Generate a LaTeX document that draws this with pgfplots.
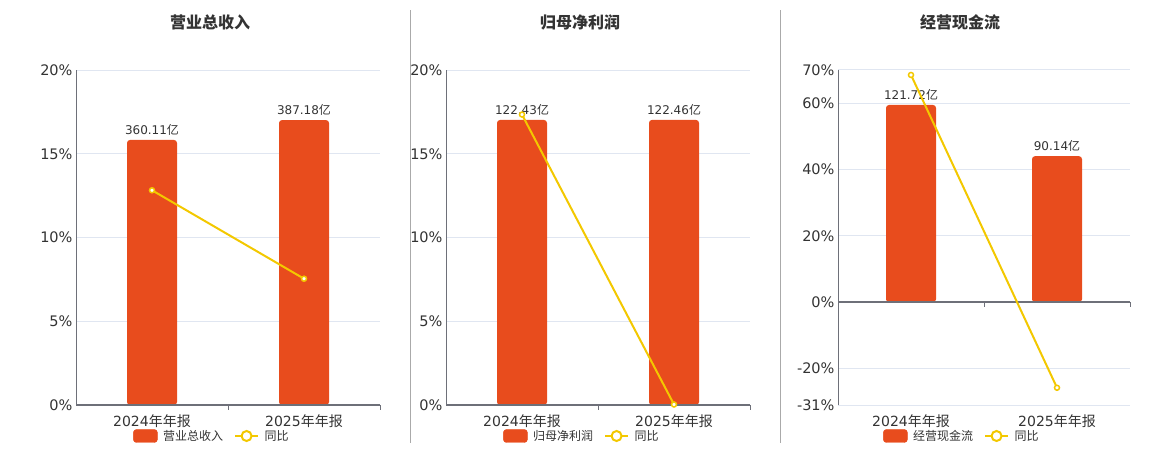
\documentclass[border=0pt]{standalone}
\usepackage{fontspec}
\setmainfont{DejaVu Sans}
\newfontfamily\cjk{Noto Sans CJK SC}
\usepackage{pgfplots}
\pgfplotsset{compat=1.18}
\pgfplotsset{set layers}

\definecolor{barc}{HTML}{E84C1D}
\definecolor{linec}{HTML}{F3C800}
\definecolor{gridc}{HTML}{E0E6F1}
\definecolor{axisc}{HTML}{6E7079}
\definecolor{txtc}{HTML}{333333}
\definecolor{sepc}{HTML}{AAAAAA}

\pgfplotsset{
  panel/.style={scale only axis, width=#1, height=335bp, xmin=-0.5, xmax=1.5, anchor=south west},
  bars/.style={hide axis, ybar, bar width=50bp, bar shift=0pt, ymin=0,
    /pgf/number format/assume math mode=true,
    nodes near coords={\pgfmathprintnumber[fixed,fixed zerofill,precision=2]{\pgfplotspointmeta}{\cjk 亿}},
    nodes near coords style={font=\fontsize{12bp}{14bp}\selectfont, text=txtc, anchor=south, yshift=1bp}},
  pct/.style={clip=false, axis lines*=left,
    x axis line style={draw=none}, y axis line style={draw=axisc, line width=1bp},
    major tick length=0pt, xtick={0,1},
    xticklabels={2024{\cjk 年年报},2025{\cjk 年年报}},
    xticklabel style={yshift=-6bp},
    ymajorgrids, grid style={draw=gridc, line width=1bp},
    yticklabel={\pgfmathprintnumber{\tick}\%},
    /pgf/number format/assume math mode=true,
    tick label style={font=\fontsize{14bp}{16bp}\selectfont, text=txtc},
    yticklabel style={font=\fontsize{14.5bp}{16bp}\selectfont},
    legend columns=2,
    legend style={draw=none, fill=none, inner sep=0pt, anchor=west,
      font=\cjk\fontsize{12bp}{14bp}\selectfont, text=txtc,
      /tikz/every odd column/.append style={column sep=3.5bp},
      /tikz/every even column/.append style={column sep=9bp}}},
  barleg/.style={legend image code/.code={\fill[barc, rounded corners=3bp] (0bp,-6.5bp) rectangle (24bp,6.5bp);}},
  lineleg/.style={legend image code/.code={%
    \draw[linec, line width=2bp] (0bp,0bp) -- (23bp,0bp);
    \draw[linec, fill=white, line width=2bp] (11.5bp,0bp) circle (5bp);}},
  yoy/.style={linec, line width=2bp, mark=*, mark size=2.5bp,
    mark options={fill=white, draw=linec, line width=1.5bp}, lineleg},
}

\begin{document}
\begin{tikzpicture}
% separators
\draw[sepc, line width=1bp] (410.5bp,-10bp) -- (410.5bp,-443bp);
\draw[sepc, line width=1bp] (780.5bp,-10bp) -- (780.5bp,-443bp);

% titles
\node[font={\cjk\bfseries\fontsize{16bp}{19bp}\selectfont}, text=txtc] at (210bp,-22bp) {营业总收入};
\node[font={\cjk\bfseries\fontsize{16bp}{19bp}\selectfont}, text=txtc] at (580bp,-22bp) {归母净利润};
\node[font={\cjk\bfseries\fontsize{16bp}{19bp}\selectfont}, text=txtc] at (960bp,-22bp) {经营现金流};

% ---- panel 1: 营业总收入
\begin{axis}[panel=304bp, at={(76bp,-405bp)}, bars, ymax=455.2]
  \addplot[fill=barc, draw=none, rounded corners=3bp] coordinates {(0,360.11) (1,387.18)};
\end{axis}
\begin{axis}[panel=304bp, at={(76bp,-405bp)}, ymin=0, ymax=20, pct,
  ytick={0,5,10,15,20},
  legend style={at={(0.1875,-0.0925)}}]
  \addlegendimage{barleg}
  \addlegendentry{营业总收入}
  \draw[axisc, line width=1.6bp] (-0.5,0) -- (1.5,0);
  \draw[axisc, line width=1bp] (0.5,0) -- (0.5,-0.3) (1.5,0) -- (1.5,-0.3);
  \addplot[yoy] coordinates {(0,12.82) (1,7.54)};
  \addlegendentry{同比}
\end{axis}

% ---- panel 2: 归母净利润
\begin{axis}[panel=304bp, at={(446bp,-405bp)}, bars, ymax=143.9]
  \addplot[fill=barc, draw=none, rounded corners=3bp] coordinates {(0,122.43) (1,122.46)};
\end{axis}
\begin{axis}[panel=304bp, at={(446bp,-405bp)}, ymin=0, ymax=20, pct,
  ytick={0,5,10,15,20},
  legend style={at={(0.1875,-0.0925)}}]
  \addlegendimage{barleg}
  \addlegendentry{归母净利润}
  \draw[axisc, line width=1.6bp] (-0.5,0) -- (1.5,0);
  \draw[axisc, line width=1bp] (0.5,0) -- (0.5,-0.3) (1.5,0) -- (1.5,-0.3);
  \addplot[yoy] coordinates {(0,17.34) (1,0.03)};
  \addlegendentry{同比}
\end{axis}

% ---- panel 3: 经营现金流
\begin{axis}[panel=292bp, at={(838bp,-405bp)}, bars, ymin=-63.4, ymax=143.3]
  \addplot[fill=barc, draw=none, rounded corners=3bp] coordinates {(0,121.72) (1,90.14)};
\end{axis}
\begin{axis}[panel=292bp, at={(838bp,-405bp)}, ymin=-31, ymax=70, pct,
  ytick={-31,-20,0,20,40,60,70},
  legend style={at={(0.154,-0.0925)}}]
  \addlegendimage{barleg}
  \addlegendentry{经营现金流}
  \draw[axisc, line width=1.6bp] (-0.5,0) -- (1.5,0);
  \draw[axisc, line width=1bp] (0.5,0) -- (0.5,-1.5) (1.5,0) -- (1.5,-1.5);
  \addplot[yoy] coordinates {(0,68.5) (1,-25.8)};
  \addlegendentry{同比}
\end{axis}

\pgfresetboundingbox
\path[use as bounding box] (0,0) rectangle (1160bp,-450bp);
\end{tikzpicture}
\end{document}
